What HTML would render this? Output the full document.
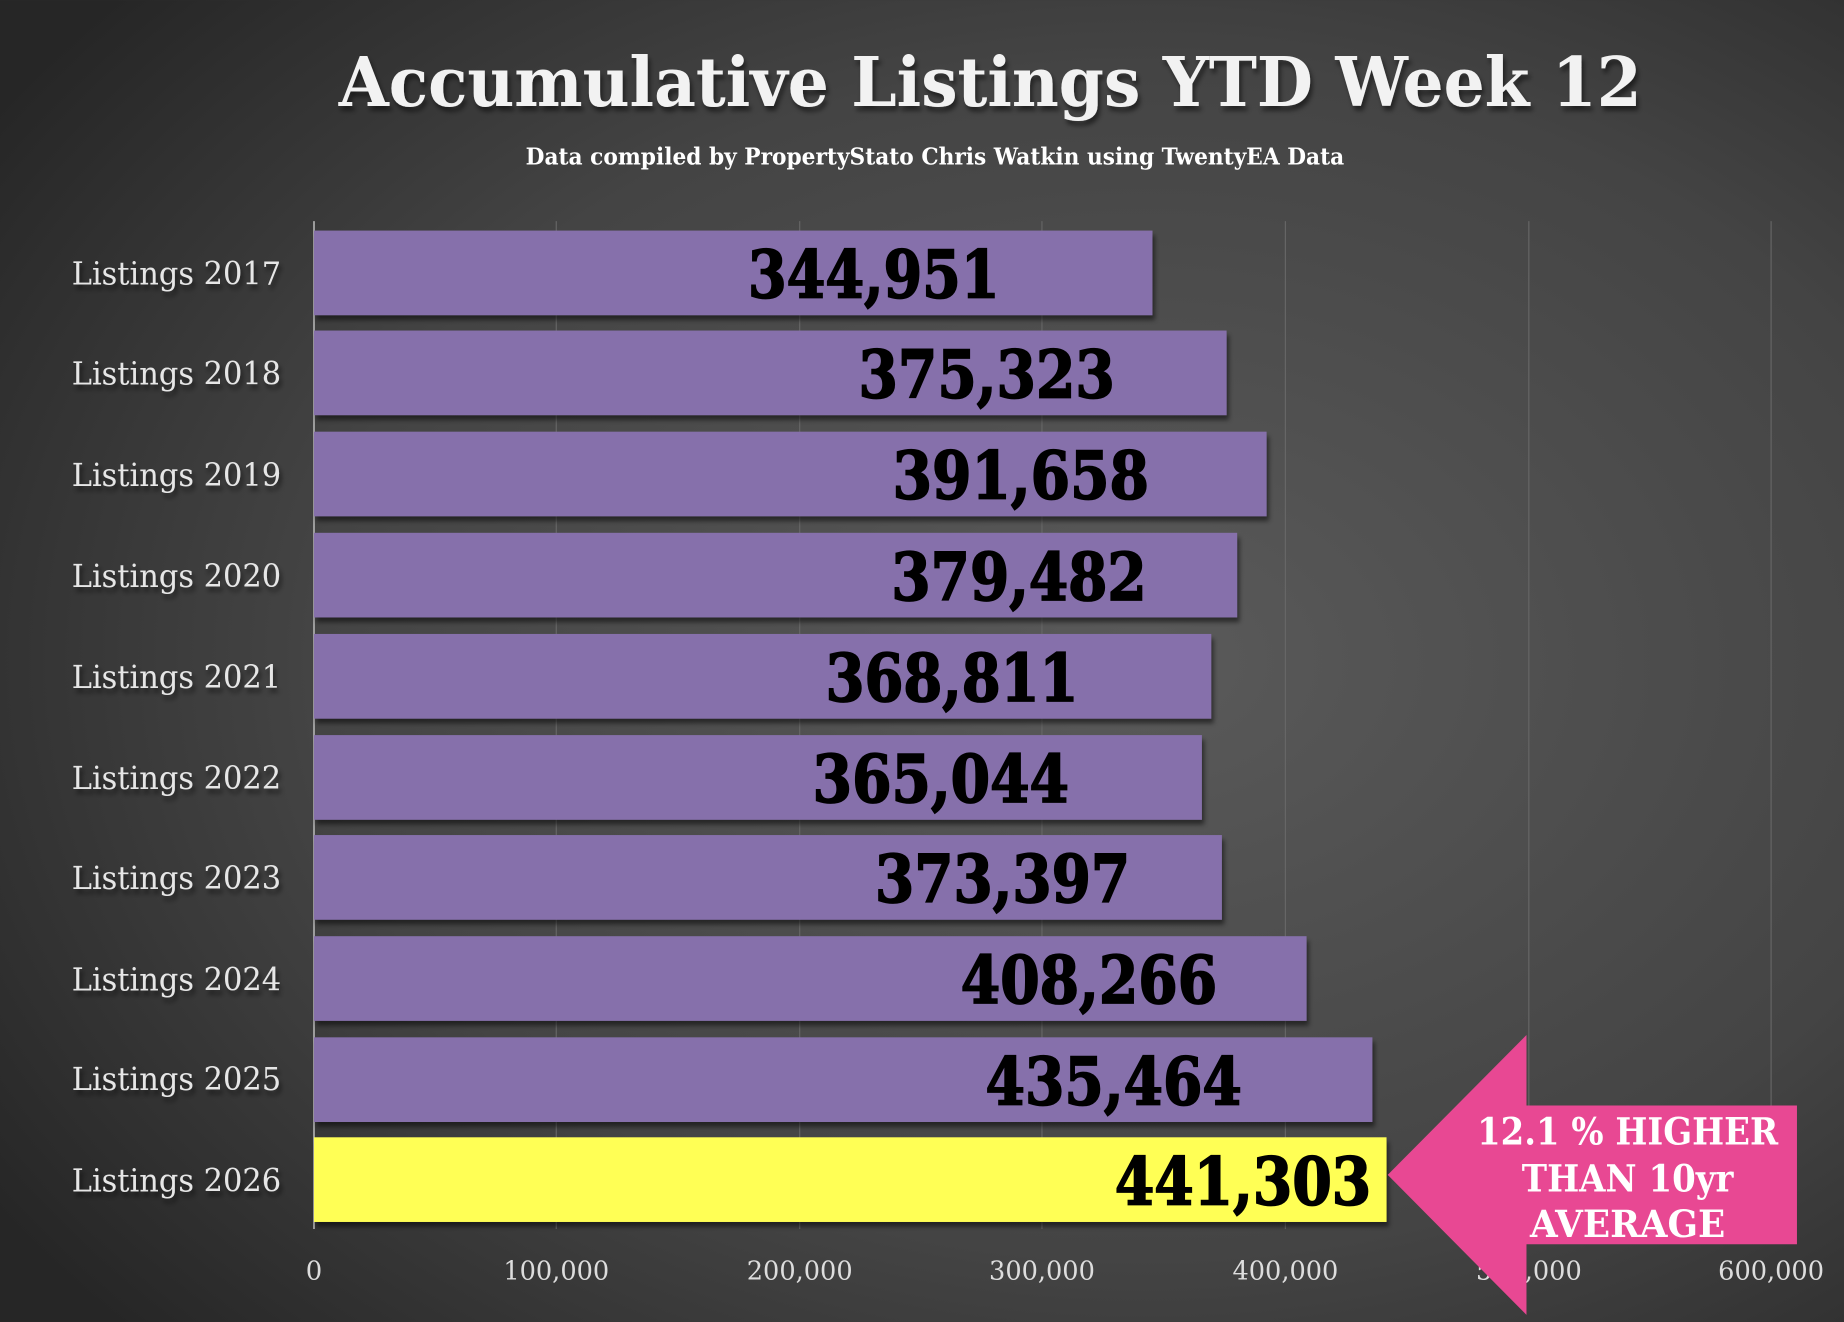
<!DOCTYPE html>
<html><head><style>html,body{margin:0;padding:0;background:#333}svg{display:block}</style></head>
<body>
<svg width="1844" height="1322" viewBox="0 0 1568 1124" xmlns="http://www.w3.org/2000/svg">
<defs>
<radialGradient id="bg" cx="0.62" cy="0.5" r="0.75">
<stop offset="0" stop-color="#5a5a5a"/><stop offset="0.6" stop-color="#444"/><stop offset="1" stop-color="#262626"/>
</radialGradient>
<filter id="sh" x="-5%" y="-5%" width="115%" height="130%"><feDropShadow dx="2" dy="4" stdDeviation="2" flood-color="#000" flood-opacity="0.5"/></filter>
</defs>
<rect width="1568" height="1124" fill="url(#bg)"/>
<g font-family="'DejaVu Serif','Liberation Serif',serif" font-weight="bold">
<text x="288" y="90" font-size="58" fill="#f2f2f2" textLength="1108" lengthAdjust="spacingAndGlyphs" filter="url(#sh)">Accumulative Listings YTD Week 12</text>
<text x="447" y="140" font-size="20" fill="#fff" textLength="696" lengthAdjust="spacingAndGlyphs">Data compiled by PropertyStato Chris Watkin using TwentyEA Data</text>
</g>
<g stroke="#666" stroke-width="1">
<line x1="473" y1="188" x2="473" y2="1045"/><line x1="680" y1="188" x2="680" y2="1045"/>
<line x1="886" y1="188" x2="886" y2="1045"/><line x1="1093" y1="188" x2="1093" y2="1045"/>
<line x1="1300" y1="188" x2="1300" y2="1045"/><line x1="1506" y1="188" x2="1506" y2="1045"/>
</g>
<line x1="267" y1="188" x2="267" y2="1045" stroke="#aaa" stroke-width="1.5"/>
<g filter="url(#sh)" fill="#8670ab">
<rect x="267" y="196" width="713" height="72"/>
<rect x="267" y="281" width="776" height="72"/>
<rect x="267" y="367" width="810" height="72"/>
<rect x="267" y="453" width="785" height="72"/>
<rect x="267" y="539" width="763" height="72"/>
<rect x="267" y="625" width="755" height="72"/>
<rect x="267" y="710" width="772" height="72"/>
<rect x="267" y="796" width="844" height="72"/>
<rect x="267" y="882" width="900" height="72"/>
<rect x="267" y="967" width="912" height="72" fill="#ffff55"/>
</g>
<g font-family="'DejaVu Serif','Liberation Serif',serif" font-weight="bold" font-size="56" fill="#000" stroke="#000" stroke-width="1.5">
<text x="636" y="253" textLength="214" lengthAdjust="spacingAndGlyphs">344,951</text>
<text x="730" y="338" textLength="218" lengthAdjust="spacingAndGlyphs">375,323</text>
<text x="759" y="424" textLength="218" lengthAdjust="spacingAndGlyphs">391,658</text>
<text x="758" y="510" textLength="217" lengthAdjust="spacingAndGlyphs">379,482</text>
<text x="702" y="596" textLength="215" lengthAdjust="spacingAndGlyphs">368,811</text>
<text x="691" y="682" textLength="218" lengthAdjust="spacingAndGlyphs">365,044</text>
<text x="744" y="767" textLength="217" lengthAdjust="spacingAndGlyphs">373,397</text>
<text x="817" y="853" textLength="218" lengthAdjust="spacingAndGlyphs">408,266</text>
<text x="838" y="939" textLength="218" lengthAdjust="spacingAndGlyphs">435,464</text>
<text x="948" y="1024" textLength="218" lengthAdjust="spacingAndGlyphs">441,303</text>
</g>
<g font-family="'DejaVu Serif','Liberation Serif',serif" font-size="27" fill="#e6e6e6" text-anchor="end" filter="url(#sh)">
<text x="239" y="242" textLength="178" lengthAdjust="spacingAndGlyphs">Listings 2017</text>
<text x="239" y="327" textLength="178" lengthAdjust="spacingAndGlyphs">Listings 2018</text>
<text x="239" y="413" textLength="178" lengthAdjust="spacingAndGlyphs">Listings 2019</text>
<text x="239" y="499" textLength="178" lengthAdjust="spacingAndGlyphs">Listings 2020</text>
<text x="239" y="585" textLength="178" lengthAdjust="spacingAndGlyphs">Listings 2021</text>
<text x="239" y="671" textLength="178" lengthAdjust="spacingAndGlyphs">Listings 2022</text>
<text x="239" y="756" textLength="178" lengthAdjust="spacingAndGlyphs">Listings 2023</text>
<text x="239" y="842" textLength="178" lengthAdjust="spacingAndGlyphs">Listings 2024</text>
<text x="239" y="927" textLength="178" lengthAdjust="spacingAndGlyphs">Listings 2025</text>
<text x="239" y="1013" textLength="178" lengthAdjust="spacingAndGlyphs">Listings 2026</text>
</g>
<g font-family="'DejaVu Serif','Liberation Serif',serif" font-size="22" fill="#ddd" text-anchor="middle">
<text x="267" y="1088">0</text>
<text x="473" y="1088" textLength="90" lengthAdjust="spacingAndGlyphs">100,000</text>
<text x="680" y="1088" textLength="90" lengthAdjust="spacingAndGlyphs">200,000</text>
<text x="886" y="1088" textLength="90" lengthAdjust="spacingAndGlyphs">300,000</text>
<text x="1093" y="1088" textLength="90" lengthAdjust="spacingAndGlyphs">400,000</text>
<text x="1300" y="1088" textLength="90" lengthAdjust="spacingAndGlyphs">500,000</text>
<text x="1506" y="1088" textLength="90" lengthAdjust="spacingAndGlyphs">600,000</text>
</g>
<polygon points="1180,999 1298,880 1298,940 1528,940 1528,1058 1298,1058 1298,1118" fill="#e84893"/>
<g font-family="'DejaVu Serif','Liberation Serif',serif" font-weight="bold" font-size="32" fill="#fff" text-anchor="middle">
<text x="1384" y="973" textLength="256" lengthAdjust="spacingAndGlyphs">12.1 % HIGHER</text>
<text x="1384" y="1013" textLength="180" lengthAdjust="spacingAndGlyphs">THAN 10yr</text>
<text x="1384" y="1052" textLength="166" lengthAdjust="spacingAndGlyphs">AVERAGE</text>
</g>
</svg>
</body></html>
